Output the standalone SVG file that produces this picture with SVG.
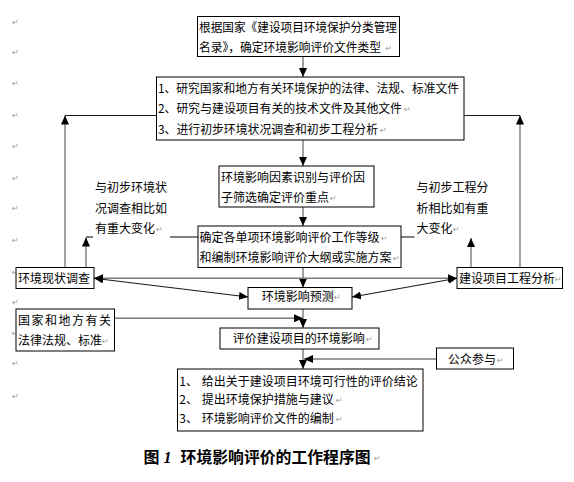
<svg xmlns="http://www.w3.org/2000/svg" width="574" height="482" viewBox="0 0 574 482">
<style>
.t{font-family:"Noto Sans CJK SC","Noto Sans",sans-serif;font-size:12px;fill:#000}
.pm{font-family:"DejaVu Sans",sans-serif;font-size:8px;fill:#999}
.box{fill:#fff;stroke:#000;stroke-width:1}
.g{stroke:#7a7a7a;stroke-width:1.4;fill:none}
.d{stroke:#1a1a1a;stroke-width:1.1;fill:none}
.cap{font-family:"Noto Sans CJK SC",sans-serif;font-size:16px;font-weight:bold;fill:#000}
</style>
<defs>
<marker id="ah" markerUnits="userSpaceOnUse" markerWidth="9" markerHeight="8" refX="9" refY="4" orient="auto-start-reverse">
<path d="M0,0 L9,4 L0,8 z" fill="#000"/>
</marker>
</defs>
<rect width="574" height="482" fill="#fff"/>
<g id="margin-marks" class="pm">
<text x="12" y="25">↵</text><text x="12" y="55">↵</text><text x="12" y="86">↵</text>
<text x="12" y="118">↵</text><text x="12" y="149">↵</text><text x="12" y="181">↵</text>
<text x="12" y="211">↵</text><text x="12" y="243">↵</text><text x="12" y="275">↵</text>
<text x="12" y="305">↵</text><text x="12" y="336">↵</text><text x="12" y="366">↵</text>
<text x="12" y="399">↵</text>
</g>
<g id="connectors">
<line class="g" x1="303" y1="56.5" x2="303" y2="77" marker-end="url(#ah)"/>
<line class="g" x1="303" y1="140" x2="303" y2="166" marker-end="url(#ah)"/>
<line class="g" x1="303" y1="207" x2="303" y2="226" marker-end="url(#ah)"/>
<line class="g" x1="303" y1="267.5" x2="303" y2="287.5" marker-end="url(#ah)"/>
<line class="g" x1="303" y1="309" x2="303" y2="328" marker-end="url(#ah)"/>
<line class="g" x1="303" y1="349" x2="303" y2="369" marker-end="url(#ah)"/>
<line class="g" x1="65" y1="267.5" x2="65" y2="115.5" marker-end="url(#ah)"/>
<line class="d" x1="65" y1="115.5" x2="156.5" y2="115.5"/>
<line class="g" x1="520" y1="267.5" x2="520" y2="115.5" marker-end="url(#ah)"/>
<line class="d" x1="464" y1="115.5" x2="520" y2="115.5"/>
<line class="g" x1="86" y1="267.5" x2="86" y2="237.5" marker-end="url(#ah)"/>
<line class="d" x1="86" y1="237" x2="93" y2="237"/>
<line class="g" x1="471" y1="267.5" x2="471" y2="238" marker-end="url(#ah)"/>
<line class="d" x1="170" y1="237" x2="198" y2="237"/>
<line class="d" x1="401" y1="237" x2="414.5" y2="237"/>
<line class="g" x1="94" y1="278.3" x2="457" y2="278.3" marker-start="url(#ah)" marker-end="url(#ah)"/>
<line class="d" x1="94" y1="278.3" x2="248" y2="297" marker-start="url(#ah)" marker-end="url(#ah)"/>
<line class="d" x1="352" y1="297" x2="457" y2="278.3" marker-start="url(#ah)" marker-end="url(#ah)"/>
<line class="g" x1="114.5" y1="318.3" x2="303" y2="318.3" marker-end="url(#ah)"/>
<line class="g" x1="436.5" y1="359" x2="304" y2="359" marker-end="url(#ah)"/>
</g>
<g id="n-top">
<rect class="box" x="197.5" y="16.5" width="202" height="40"/>
<text class="t" x="199" y="31.5" textLength="198" lengthAdjust="spacingAndGlyphs">根据国家《建设项目环境保护分类管理</text>
<text class="t" x="199" y="52" textLength="182" lengthAdjust="spacingAndGlyphs">名录》，确定环境影响评价文件类型</text>
<text class="pm" x="385.5" y="51">↵</text>
</g>
<g id="n-research">
<rect class="box" x="156.5" y="77" width="307.5" height="63"/>
<text class="t" x="158" y="92.5" textLength="301" lengthAdjust="spacingAndGlyphs">1、研究国家和地方有关环境保护的法律、法规、标准文件</text>
<text class="t" x="158" y="113" textLength="244" lengthAdjust="spacingAndGlyphs">2、研究与建设项目有关的技术文件及其他文件</text>
<text class="pm" x="404" y="112">↵</text>
<text class="t" x="158" y="133.5" textLength="220" lengthAdjust="spacingAndGlyphs">3、进行初步环境状况调查和初步工程分析</text>
<text class="pm" x="380" y="132.5">↵</text>
</g>
<g id="n-factor">
<rect class="box" x="219" y="166" width="155" height="41"/>
<text class="t" x="221" y="181.5">环境影响因素识别与评价因</text>
<text class="t" x="221" y="201.5">子筛选确定评价重点</text>
<text class="pm" x="330" y="200.5">↵</text>
</g>
<g id="n-grade">
<rect class="box" x="198" y="226" width="203" height="41.5"/>
<text class="t" x="199.5" y="242">确定各单项环境影响评价工作等级</text>
<text class="pm" x="381" y="241">↵</text>
<text class="t" x="199.5" y="262">和编制环境影响评价大纲或实施方案</text>
<text class="pm" x="393" y="261">↵</text>
</g>
<g id="label-left">
<text class="t" x="95" y="192.3">与初步环境状</text>
<text class="t" x="95" y="212.8">况调查相比如</text>
<text class="t" x="95" y="232.5">有重大变化</text>
<text class="pm" x="156" y="231.5">↵</text>
</g>
<g id="label-right">
<text class="t" x="416.5" y="192">与初步工程分</text>
<text class="t" x="416.5" y="212.8">析相比如有重</text>
<text class="t" x="416.5" y="232.8">大变化</text>
<text class="pm" x="453" y="231.8">↵</text>
</g>
<g id="n-env">
<rect class="box" x="16" y="267.5" width="78" height="21"/>
<text class="t" x="18" y="283">环境现状调查</text>
</g>
<g id="n-proj">
<rect class="box" x="457" y="267.5" width="105.5" height="21"/>
<text class="t" x="459" y="283">建设项目工程分析</text>
<text class="pm" x="555" y="282">↵</text>
</g>
<g id="n-predict">
<rect class="box" x="248" y="287.5" width="104" height="21.5"/>
<text class="t" x="261.7" y="301.3">环境影响预测</text>
<text class="pm" x="334" y="300.3">↵</text>
</g>
<g id="n-laws">
<rect class="box" x="16" y="309" width="98.5" height="42"/>
<text class="t" x="18" y="324.6" textLength="93" lengthAdjust="spacing">国家和地方有关</text>
<text class="t" x="18" y="344.6">法律法规、标准</text>
<text class="pm" x="102" y="343.6">↵</text>
</g>
<g id="n-eval">
<rect class="box" x="220" y="328" width="159" height="21"/>
<text class="t" x="232.7" y="343">评价建设项目的环境影响</text>
<text class="pm" x="366" y="342">↵</text>
</g>
<g id="n-public">
<rect class="box" x="436.5" y="348" width="77" height="21"/>
<text class="t" x="448" y="363.5">公众参与</text>
<text class="pm" x="497" y="362.5">↵</text>
</g>
<g id="n-result">
<rect class="box" x="177.5" y="369" width="245.5" height="62"/>
<text class="t" x="179.3" y="385.6">1、</text>
<text class="t" x="201.7" y="385.6">给出关于建设项目环境可行性的评价结论</text>
<text class="t" x="179.3" y="404">2、</text>
<text class="t" x="201.7" y="404">提出环境保护措施与建议</text>
<text class="pm" x="336" y="403">↵</text>
<text class="t" x="179.3" y="423">3、</text>
<text class="t" x="201.7" y="423">环境影响评价文件的编制</text>
<text class="pm" x="336" y="422">↵</text>
</g>
<g id="caption">
<text class="cap" x="143.6" y="462.8">图</text>
<text x="163.5" y="462.8" style="font-family:'Liberation Serif',serif;font-size:16px;font-style:italic;font-weight:bold">1</text>
<text class="cap" x="180.6" y="462.8" textLength="190" lengthAdjust="spacingAndGlyphs">环境影响评价的工作程序图</text>
<text class="pm" x="374" y="461">↵</text>
</g>
</svg>
